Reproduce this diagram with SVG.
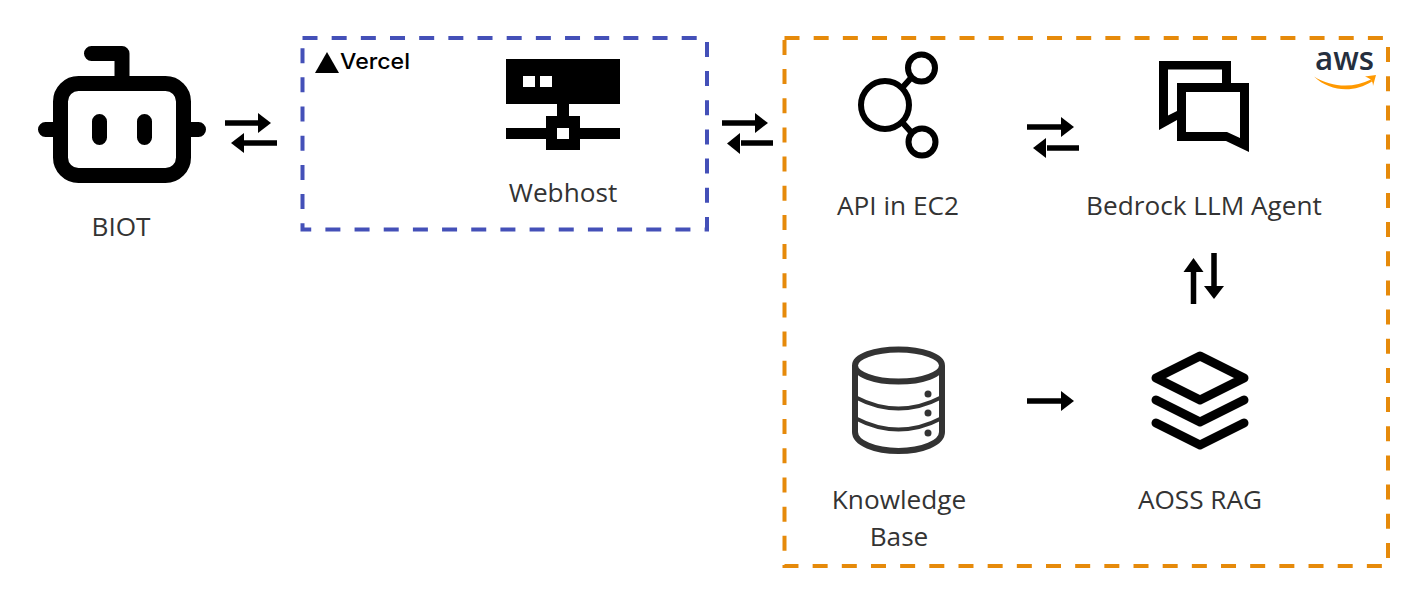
<svg xmlns="http://www.w3.org/2000/svg" width="1410" height="599" viewBox="0 0 1410 599">
<style>
.label{font-family:"Open Sans",sans-serif;font-size:26.200px;fill:#333;text-anchor:middle}
.shaft{stroke:#000;stroke-width:5.500;fill:none}
.head{fill:#000}
.ink{fill:none;stroke:#000}
</style>
<rect width="1410" height="599" fill="#fff"/>
<g id="group-vercel">
<rect x="302.500" y="38" width="404.500" height="191.500" fill="none" stroke="#4450b8" stroke-width="4" stroke-dasharray="15 14.170"/>
<polygon points="315,73 327,52 339,73" fill="#000"/>
<text x="340" y="69" font-family="Inter,sans-serif" font-weight="500" font-size="21.500" fill="#000" textLength="70" lengthAdjust="spacingAndGlyphs">Vercel</text>
</g>
<g id="group-aws">
<rect x="784.500" y="38" width="603.500" height="528" fill="none" stroke="#e68a0a" stroke-width="4" stroke-dasharray="15 14.170"/>
<text x="1315" y="70" font-family="Open Sans,sans-serif" font-weight="600" font-size="32" fill="#252f3e" textLength="59" lengthAdjust="spacingAndGlyphs">aws</text>
<path d="M1314,76.500C1332,88 1354,88 1371,79.500L1372,81.500C1354,93 1330,92 1314,76.500Z" fill="#f90"/>
<path d="M1365,76.500L1376,75L1373,86C1373,82 1372,79 1365,76.500Z" fill="#f90"/>
</g>
<g id="node-biot">
<rect x="60.500" y="83.500" width="123" height="92" rx="18" class="ink" stroke-width="15"/>
<path d="M45.500,129.500H54M190,129.500H198.500" class="ink" stroke-width="15" stroke-linecap="round"/>
<path d="M99.500,121.500V137.500M144.500,121.500V137.500" class="ink" stroke-width="15" stroke-linecap="round"/>
<path d="M91.500,53.500H122V77" class="ink" stroke-width="15" stroke-linecap="round" stroke-linejoin="round"/>
<text x="121" y="236" class="label">BIOT</text>
</g>
<g id="node-webhost">
<path fill-rule="evenodd" d="M506,59H620V104H569V116H580V128H620V139H580V150H546V139H506V128H546V116H557V104H506ZM523,76V87H535V76ZM540,76V87H552V76ZM557,128V139H569V128Z" fill="#000"/>
<text x="563" y="202" class="label">Webhost</text>
</g>
<g id="node-api">
<circle cx="885" cy="105" r="24" class="ink" stroke-width="6"/>
<circle cx="921.500" cy="68" r="13.500" class="ink" stroke-width="6"/>
<circle cx="922" cy="142" r="13.500" class="ink" stroke-width="6"/>
<path d="M902,88L911,78M902,122L911,132" class="ink" stroke-width="6"/>
<text x="898" y="215" class="label">API in EC2</text>
</g>
<g id="node-bedrock">
<path d="M1159,61H1231V83H1222V69.500H1168V115.500L1177,111V120L1159,130Z" fill="#000"/>
<path fill-rule="evenodd" d="M1177,83H1249V152L1226,141H1177ZM1186,92V132H1227L1240,138V92Z" fill="#000"/>
<text x="1204" y="215" class="label">Bedrock LLM Agent</text>
</g>
<g id="node-kb">
<g fill="none" stroke="#333" stroke-width="6">
<ellipse cx="898.500" cy="365.500" rx="43.500" ry="16"/>
<path d="M855,366V432C855,443 875,451 898.500,451C922,451 942,443 942,432V366"/>
<path d="M855,397Q898.500,420 942,397" stroke-width="4"/>
<path d="M855,418Q898.500,441 942,418" stroke-width="4"/>
</g>
<g fill="#333"><circle cx="928" cy="394" r="3.500"/><circle cx="928" cy="413" r="3.500"/><circle cx="928" cy="433" r="3.500"/></g>
<text x="899" y="509" class="label">Knowledge</text>
<text x="899" y="546" class="label">Base</text>
</g>
<g id="node-aoss">
<path d="M1200,356L1244,378L1200,400L1156,378Z" class="ink" stroke-width="9" stroke-linejoin="round"/>
<path d="M1156,400L1200,422L1244,400M1156,423L1200,445L1244,423" class="ink" stroke-width="9" stroke-linecap="round" stroke-linejoin="round"/>
<text x="1200" y="509" class="label">AOSS RAG</text>
</g>
<g id="connectors">
<path d="M225,123H260M277,143H242" class="shaft"/>
<polygon points="258,113 271,123 258,133" class="head"/><polygon points="244,133 231,143 244,153" class="head"/>
<path d="M722,123H757M773,143H741" class="shaft"/>
<polygon points="755,113 768,123 755,133" class="head"/><polygon points="740,133 727,143.500 740,154" class="head"/>
<path d="M1027,127H1063M1079,148H1047" class="shaft"/>
<polygon points="1061,117 1074,127 1061,137" class="head"/><polygon points="1046,138 1033,148 1046,158" class="head"/>
<path d="M1193.500,304V271M1214,253V287" class="shaft"/>
<polygon points="1183.500,272 1193.500,258 1203.500,272" class="head"/><polygon points="1204,286 1214,299 1224,286" class="head"/>
<path d="M1027,401H1063" class="shaft"/>
<polygon points="1061,391 1074,401 1061,411" class="head"/>
</g>
</svg>
